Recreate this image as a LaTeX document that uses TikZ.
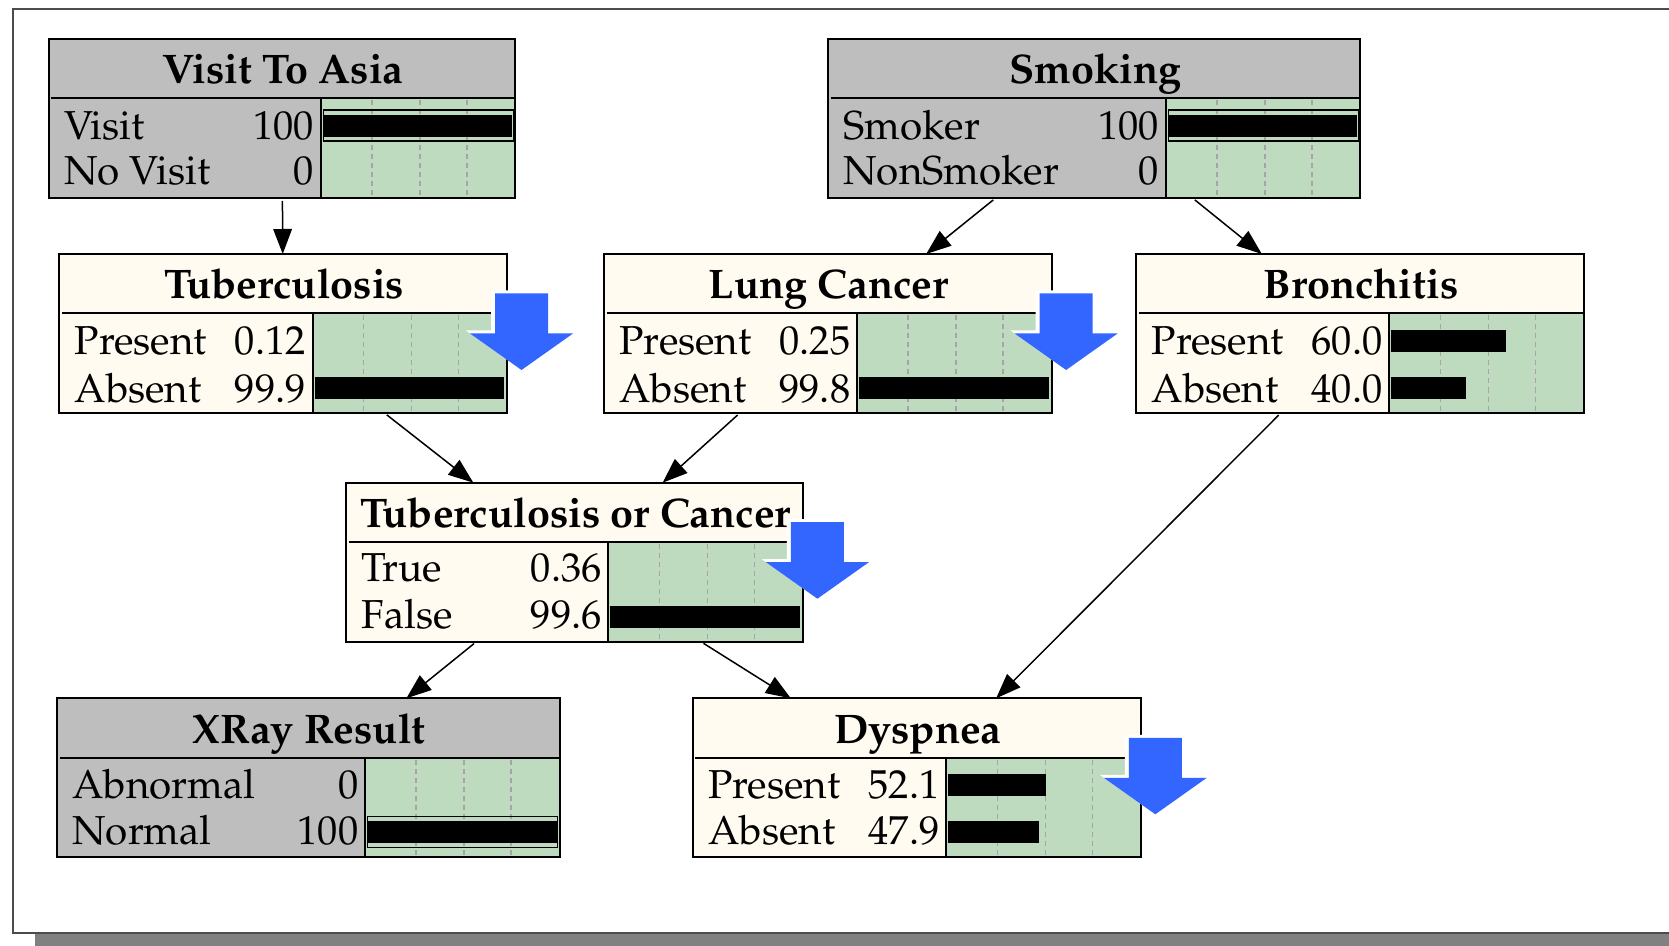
\documentclass[tikz,border=0pt]{standalone}
\usepackage[T1]{fontenc}
\usepackage{mathpazo}
\usetikzlibrary{arrows.meta}

\definecolor{obsgray}{HTML}{BEBEBE}
\definecolor{cream}{HTML}{FFFBF0}
\definecolor{panelgreen}{HTML}{BFDBBF}
\definecolor{dashgray}{HTML}{A8A3A8}
\definecolor{dropblue}{HTML}{3366FF}

\tikzset{
	cptbox/.style={anchor=north west,outer sep=0pt,inner sep=0pt,line width=1pt,draw=black},
	cptpanel/.style={anchor=north east,outer sep=0pt,inner sep=0pt,line width=1pt,draw=black,fill=panelgreen,minimum width=97.25pt,minimum height=49.75pt},
	cpttitle/.style={anchor=base,inner sep=0pt,font=\fontsize{20.65}{24}\selectfont\bfseries},
	cptlabel/.style={anchor=base west,inner sep=0pt,font=\fontsize{20.2}{24}\selectfont},
	cptvalue/.style={anchor=base east,inner sep=0pt,font=\fontsize{20.2}{24}\selectfont},
	griddash/.style={dashgray,line width=0.8pt,dash pattern=on 2.5pt off 2pt},
	edge/.style={line width=0.75pt,shorten <=1.5pt,-{Triangle[length=12.5pt,width=9.3pt]}}
}

\newcommand{\cptnode}[6]{
	\node[cptbox,fill=#2,minimum width=0.5pt*(#4-#3),minimum height=79.5pt] (#1) at (#3,#5) {};
	\node[cptpanel] (#1-panel) at ([shift={(0,59.5)}]#1.north east) {};
	\draw[line width=1pt] ([shift={(2.5,59.5)}]#1.north west) -- (#1-panel.north west);
	\foreach \gx in {51,99,146}
		\draw[griddash] ([shift={(\gx,2)}]#1-panel.north west) -- ([shift={(\gx,98)}]#1-panel.north west);
	\node[cpttitle] (#1-title) at ([shift={(1,45)}]#1.north) {#6};
}
\newcommand{\cptrow}[5]{
	\node[cptlabel] (#1-#2-label) at ([shift={(15,#3)}]#1.north west) {#4};
	\node[cptvalue] (#1-#2-value) at ([shift={(-6.5,#3-59.5)}]#1-panel.north west) {#5};
}
\newcommand{\cptbar}[3]{
	\fill[black] ([shift={(2,#2-82.5)}]#1-panel.north west) rectangle ([shift={(2+#3,#2-60.5)}]#1-panel.north west);
}
\newcommand{\cptfixed}[2]{
	\draw[line width=0.75pt] ([shift={(2.5,#2-87.5)}]#1-panel.north west) rectangle ([shift={(192.5,#2-56.5)}]#1-panel.north west);
}
\newcommand{\cptdrop}[1]{
	\foreach \dropcol/\dx/\dy in {white/-4/-3,dropblue/0/0}
		\fill[\dropcol] ([shift={(-12+\dx,39.5+\dy)}]#1.north east) -- ++(53,0) -- ++(0,40) -- ++(25,0) -- ++(-51.5,36.5) -- ++(-51.5,-36.5) -- ++(25,0) -- cycle;
}

\begin{document}
\begin{tikzpicture}[x=0.5pt,y=-0.5pt]
	\useasboundingbox (0,0) rectangle (1669,946);
	\fill[gray] (35,933) rectangle (1669,946);
	\draw[black!70,line width=0.6pt] (1669,9) -- (13,9) -- (13,933) -- (1669,933);

	\cptnode{visit}{obsgray}{48.6}{515.4}{39}{Visit To Asia}
	\cptrow{visit}{a}{100.5}{Visit}{100}
	\cptrow{visit}{b}{146}{No Visit}{0}
	\cptbar{visit}{99}{189.5}
	\cptfixed{visit}{99}

	\cptnode{smoking}{obsgray}{828}{1360.3}{39}{Smoking}
	\cptrow{smoking}{a}{100.5}{Smoker}{100}
	\cptrow{smoking}{b}{146}{NonSmoker}{0}
	\cptbar{smoking}{99}{189.5}
	\cptfixed{smoking}{99}

	\cptnode{tub}{cream}{59.3}{507}{254}{Tuberculosis}
	\cptrow{tub}{a}{101}{Present}{0.12}
	\cptrow{tub}{b}{148}{Absent}{99.9}
	\cptbar{tub}{146}{189.5}
	\cptdrop{tub}

	\cptnode{lung}{cream}{604}{1051.6}{254}{Lung Cancer}
	\cptrow{lung}{a}{101}{Present}{0.25}
	\cptrow{lung}{b}{148}{Absent}{99.8}
	\cptbar{lung}{146}{189.5}
	\cptdrop{lung}

	\cptnode{bronc}{cream}{1136.2}{1583.8}{254}{Bronchitis}
	\cptrow{bronc}{a}{101}{Present}{60.0}
	\cptrow{bronc}{b}{148}{Absent}{40.0}
	\cptbar{bronc}{99}{115}
	\cptbar{bronc}{146}{75}

	\cptnode{torc}{cream}{346.4}{802.9}{482.7}{Tuberculosis or Cancer}
	\cptrow{torc}{a}{99}{True}{0.36}
	\cptrow{torc}{b}{146}{False}{99.6}
	\cptbar{torc}{146}{189.5}
	\cptdrop{torc}

	\cptnode{xray}{obsgray}{57}{559.6}{698.3}{XRay Result}
	\cptrow{xray}{a}{100}{Abnormal}{0}
	\cptrow{xray}{b}{146}{Normal}{100}
	\cptbar{xray}{146}{189.5}
	\cptfixed{xray}{146}

	\cptnode{dysp}{cream}{692.9}{1140.8}{698.3}{Dyspnea}
	\cptrow{dysp}{a}{100}{Present}{52.1}
	\cptrow{dysp}{b}{146}{Absent}{47.9}
	\cptbar{dysp}{99}{97.5}
	\cptbar{dysp}{146}{90.5}
	\cptdrop{dysp}

	\draw[edge] (visit) -- (tub);
	\draw[edge] (smoking) -- (lung);
	\draw[edge] (smoking) -- (bronc);
	\draw[edge] (tub) -- (torc);
	\draw[edge] (lung) -- (torc);
	\draw[edge] (bronc) -- (dysp);
	\draw[edge] (torc) -- (xray);
	\draw[edge] (torc) -- (dysp);
\end{tikzpicture}
\end{document}
